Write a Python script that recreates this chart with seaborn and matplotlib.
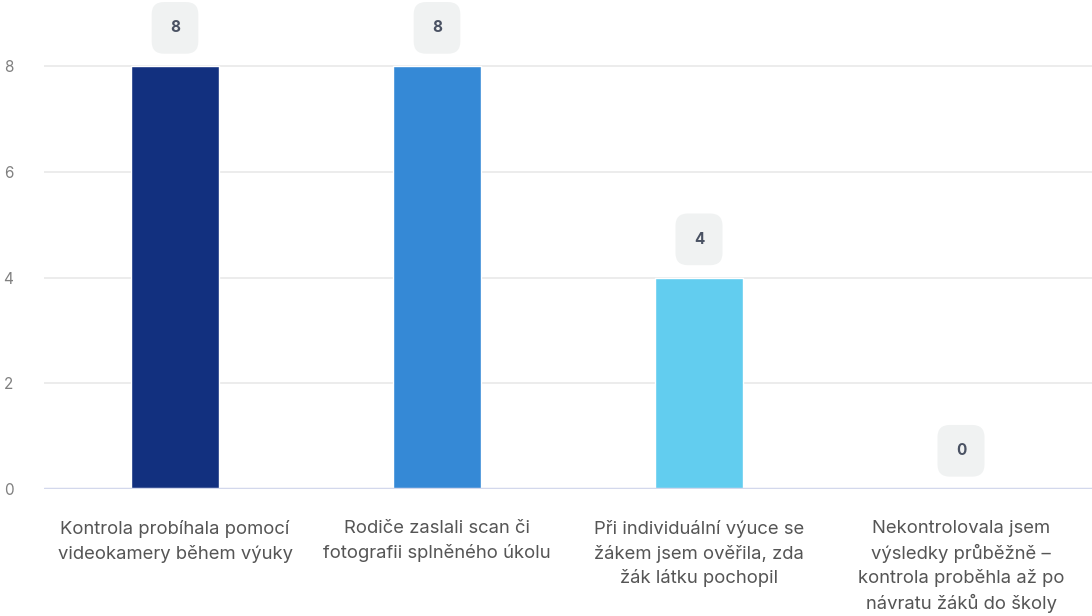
import matplotlib
matplotlib.use("Agg")
import matplotlib.pyplot as plt
import seaborn as sns
import pandas as pd

categories = [
    "Kontrola probíhala pomocí\nvideokamery během výuky",
    "Rodiče zaslali scan či\nfotografii splněného úkolu",
    "Při individuální výuce se\nžákem jsem ověřila, zda\nžák látku pochopil",
    "Nekontrolovala jsem\nvýsledky průběžně –\nkontrola proběhla až po\nnávratu žáků do školy",
]
values = [8, 8, 4, 0]
colors = ["#12307f", "#3589d6", "#62cdef", "#9fdcf2"]

sns.set_style("white")
plt.rcParams["font.family"] = ["Inter", "DejaVu Sans"]

df = pd.DataFrame({"cat": categories, "val": values})

fig = plt.figure(figsize=(10.92, 6.16), dpi=100)
ax = fig.add_axes([44 / 1092, 1 - 489 / 616, 1 - 44 / 1092, 489 / 616])

sns.barplot(data=df, x="cat", y="val", hue="cat", palette=colors,
            width=0.335, legend=False, ax=ax, saturation=1)

ax.set_xlim(-0.5, 3.5)
ax.set_ylim(0, 9.25)
ax.set_yticks([0, 2, 4, 6, 8])
ax.yaxis.grid(True, color="#e9e9e9", lw=1.2)
ax.set_axisbelow(True)
for s in ["top", "right", "left", "bottom"]:
    ax.spines[s].set_visible(False)
ax.axhline(0, color="#d3d8ec", lw=2.5, zorder=3)

ax.tick_params(axis="y", length=0, pad=22, labelsize=11, labelcolor="#808080")
ax.tick_params(axis="x", length=0, pad=22.5, labelsize=13.3, labelcolor="#555555")
ax.set_xlabel("")
ax.set_ylabel("")
for lbl in ax.get_xticklabels():
    lbl.set_linespacing(1.45)

for i, v in enumerate(values):
    ax.annotate(str(v), (i, v), xytext=(0, 27.5), textcoords="offset points",
                ha="center", va="center", fontsize=11, fontweight="bold",
                color="#4a5263",
                bbox=dict(boxstyle="round,pad=1.2,rounding_size=0.8",
                          fc="#f0f2f2", ec="none"))

fig.savefig("out.png", dpi=100)
